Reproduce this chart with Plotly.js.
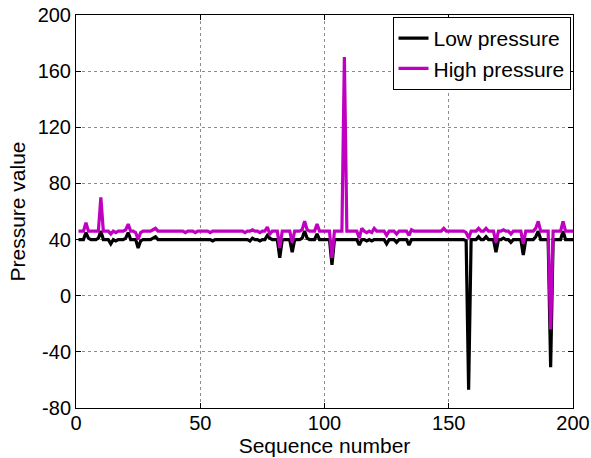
<!DOCTYPE html>
<html>
<head>
<meta charset="utf-8">
<script src="https://cdn.plot.ly/plotly-3.0.1.min.js"></script>
<style>html,body{margin:0;padding:0;background:#fff;}#chart{width:591px;height:458px;}</style>
</head>
<body>
<div id="chart"></div>
<script>
const seriesNames = ["Low pressure", "High pressure"];
const xTickValues = [0, 50, 100, 150, 200];
const yTickValues = [-80, -40, 0, 40, 80, 120, 160, 200];

const lowPressure = [
  40,40,40,45,41,40,40,40,41,46,
  40,40,40,37,40,39,40,40,40,41,
  45,40,40,40,34,39,40,40,40,40,
  41,42,40,40,40,40,40,40,40,40,
  40,40,40,40,40,40,40,40,40,40,
  40,40,40,40,39,40,40,40,40,40,
  40,40,40,40,40,40,40,40,40,39,
  41,40,40,39,40,40,43,41,40,40,
  40,27,40,40,40,40,31,40,40,40,
  41,46,41,40,40,40,44,40,40,40,
  40,40,22,40,40,40,40,40,40,40,
  40,40,40,36,40,40,39,40,39,40,
  40,40,40,40,37,40,40,40,38,40,
  40,40,40,36,40,40,40,40,40,40,
  40,40,40,40,40,40,40,40,40,40,
  40,40,40,40,40,40,39,-67,40,40,
  40,42,40,40,42,40,40,40,31,40,
  40,41,40,40,38,40,40,40,40,29,
  40,40,40,40,42,46,40,40,40,40,
  -51,40,40,40,40,46,40,40,40,40
];

const highPressure = [
  46,46,46,52,46,46,46,46,46,70,
  46,46,46,44,46,45,46,46,46,47,
  51,46,46,45,40,45,46,46,46,46,
  47,48,46,46,46,46,46,46,46,46,
  46,46,46,45,46,46,46,45,46,46,
  46,46,46,45,46,46,46,46,46,46,
  46,46,46,46,46,46,46,45,46,46,
  47,46,46,45,46,46,49,44,46,46,
  46,34,46,46,46,46,38,46,46,46,
  47,53,47,46,46,46,51,46,46,46,
  46,46,27,46,46,46,46,170,46,46,
  46,46,46,41,48,46,45,46,45,48,
  46,46,46,46,43,46,46,46,44,46,
  46,46,46,43,47,46,46,46,46,46,
  46,46,46,46,46,46,46,48,46,46,
  46,46,46,46,46,46,45,41,46,46,
  46,48,46,46,48,46,46,46,38,46,
  46,47,46,46,44,46,46,46,46,37,
  46,46,46,46,48,53,46,46,46,46,
  -24,46,46,46,46,53,46,46,46,46
];

const seq = lowPressure.map((_, i) => i + 1);

const font = "Liberation Sans, Arial, sans-serif";

const traces = [
  {x: seq, y: lowPressure, name: seriesNames[0], type: "scatter", mode: "lines",
   line: {color: "#000000", width: 3.2}},
  {x: seq, y: highPressure, name: seriesNames[1], type: "scatter", mode: "lines",
   line: {color: "#c000c0", width: 3.2}}
];

const axisCommon = {
  showline: true, mirror: "ticks", linecolor: "#000", linewidth: 1,
  ticks: "inside", ticklen: 5, tickcolor: "#000",
  showgrid: true, gridcolor: "#8c8c8c", griddash: "dot", gridwidth: 1,
  zeroline: false,
  tickfont: {family: font, size: 20, color: "#000"}
};

const layout = {
  width: 591, height: 458,
  margin: {l: 76, r: 18, t: 15, b: 50},
  paper_bgcolor: "#fff", plot_bgcolor: "#fff",
  showlegend: true,
  legend: {x: 0.995, y: 0.995, xanchor: "right", yanchor: "top",
           bgcolor: "#fff", bordercolor: "#000", borderwidth: 1,
           font: {family: font, size: 21, color: "#000"},
           tracegroupgap: 0, itemwidth: 30},
  xaxis: Object.assign({}, axisCommon, {
    range: [0, 200], tickvals: xTickValues, ticktext: xTickValues.map(String),
    ticklabelstandoff: -3,
    title: {text: "Sequence number", font: {family: font, size: 21, color: "#000"}, standoff: 0}
  }),
  yaxis: Object.assign({}, axisCommon, {
    range: [-80, 200], tickvals: yTickValues, ticktext: yTickValues.map(String),
    title: {text: "Pressure value", font: {family: font, size: 21, color: "#000"}, standoff: 6}
  })
};

Plotly.newPlot("chart", traces, layout, {displayModeBar: false, staticPlot: true});
</script>
</body>
</html>
